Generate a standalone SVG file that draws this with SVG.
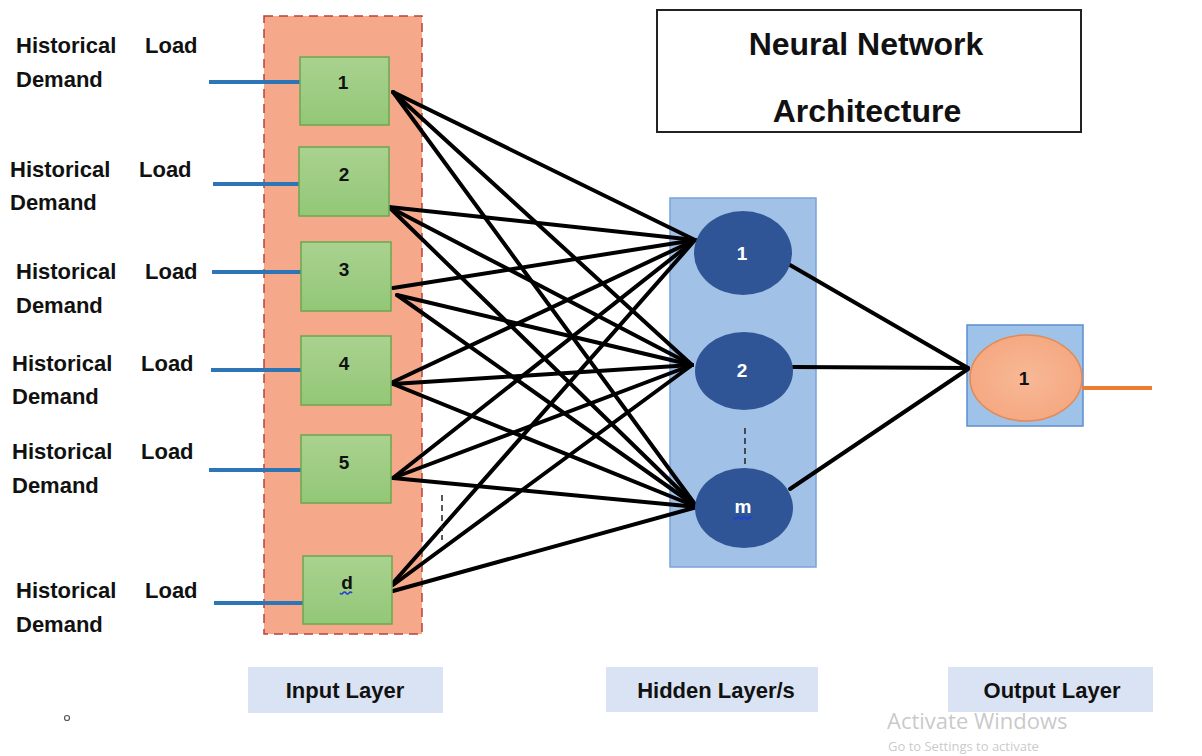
<svg xmlns="http://www.w3.org/2000/svg" width="1202" height="756" viewBox="0 0 1202 756">
  <defs>
    <linearGradient id="greenFill" x1="0" y1="0" x2="0" y2="1">
      <stop offset="0" stop-color="#a9d28f"/>
      <stop offset="1" stop-color="#93c777"/>
    </linearGradient>
    <radialGradient id="orangeFill" cx="0.5" cy="0.5" r="0.6">
      <stop offset="0" stop-color="#f8b896"/>
      <stop offset="1" stop-color="#f4a67e"/>
    </radialGradient>
  </defs>
  <style>
    text { font-family: "Liberation Sans", Arial, sans-serif; font-weight: bold; fill: #111; }
    .side { font-size: 22px; }
    .num { font-size: 19px; text-anchor: middle; }
    .hnum { font-size: 19px; text-anchor: middle; fill: #ffffff; }
    .title { font-size: 32px; text-anchor: middle; }
    .cap { font-size: 22px; text-anchor: middle; }
    .inbox { fill: url(#greenFill); stroke: #6aa84f; stroke-width: 1.5; }
    .feed { stroke: #2e75b6; stroke-width: 4; }
    .edge { stroke: #000; stroke-width: 4; fill: none; stroke-linecap: round; }
    .hnode { fill: #2f5597; }
    .dots { stroke: #222; stroke-width: 1.5; stroke-dasharray: 6 4; }
    .capbox { fill: #dae3f3; }
    .squiggle { fill: none; stroke: #1f3fd8; stroke-width: 1.5; }
    .wm { font-family: "Open Sans", "Liberation Sans", sans-serif; font-weight: normal; fill: #9a9a9a; fill-opacity: 0.55; }
  </style>

  <rect x="0" y="0" width="1202" height="756" fill="#ffffff"/>

  <!-- input layer panel -->
  <g id="input-layer">
    <rect x="264" y="16" width="158" height="618" fill="#f6a88a" stroke="#b8413a" stroke-width="1.5" stroke-dasharray="9 6"/>
  </g>

  <!-- hidden layer panel -->
  <g id="hidden-layer">
    <rect x="670" y="198" width="146" height="369" fill="#a2c1e7" stroke="#7aa3d9" stroke-width="1.5"/>
  </g>

  <!-- output layer panel -->
  <g id="output-layer">
    <rect x="967" y="325" width="116" height="101" fill="#9fc3e8" stroke="#5b8fd0" stroke-width="1.5"/>
  </g>

  <!-- connectors -->
  <g id="connectors">
    <!-- external feeds into input nodes -->
    <line class="feed" x1="209" y1="82" x2="300" y2="82"/>
    <line class="feed" x1="213" y1="184" x2="300" y2="184"/>
    <line class="feed" x1="212" y1="272" x2="301" y2="272"/>
    <line class="feed" x1="211" y1="370" x2="301" y2="370"/>
    <line class="feed" x1="209" y1="470" x2="301" y2="470"/>
    <line class="feed" x1="214" y1="603" x2="306" y2="603"/>

    <!-- input to hidden -->
    <line class="edge" x1="393" y1="92" x2="695" y2="240"/>
    <line class="edge" x1="393" y1="92" x2="692" y2="365"/>
    <line class="edge" x1="393" y1="92" x2="697" y2="507"/>

    <line class="edge" x1="389" y1="207" x2="695" y2="240"/>
    <line class="edge" x1="389" y1="207" x2="692" y2="365"/>
    <line class="edge" x1="389" y1="207" x2="697" y2="507"/>

    <line class="edge" x1="393" y1="288" x2="695" y2="240"/>
    <line class="edge" x1="397" y1="295" x2="692" y2="365"/>
    <line class="edge" x1="397" y1="295" x2="697" y2="507"/>

    <line class="edge" x1="393" y1="382" x2="695" y2="240"/>
    <line class="edge" x1="393" y1="384" x2="692" y2="365"/>
    <line class="edge" x1="393" y1="384" x2="697" y2="507"/>

    <line class="edge" x1="393" y1="478" x2="695" y2="240"/>
    <line class="edge" x1="393" y1="478" x2="692" y2="365"/>
    <line class="edge" x1="393" y1="478" x2="697" y2="507"/>

    <line class="edge" x1="393" y1="583" x2="695" y2="240"/>
    <line class="edge" x1="393" y1="585" x2="692" y2="365"/>
    <line class="edge" x1="393" y1="591" x2="697" y2="507"/>

    <!-- hidden to output -->
    <line class="edge" x1="790" y1="265" x2="968" y2="368"/>
    <line class="edge" x1="793" y1="367" x2="968" y2="368"/>
    <line class="edge" x1="790" y1="489" x2="968" y2="369"/>

    <!-- output feed -->
    <line x1="1082" y1="388" x2="1152" y2="388" stroke="#ed7d31" stroke-width="4"/>

    <!-- ellipsis markers -->
    <line class="dots" x1="442" y1="495" x2="442" y2="540"/>
    <line class="dots" x1="745" y1="428" x2="745" y2="472"/>
  </g>

  <!-- input nodes -->
  <g id="in-1">
    <rect class="inbox" x="300" y="57" width="89" height="68"/>
    <text class="num" x="343" y="89">1</text>
  </g>
  <g id="in-2">
    <rect class="inbox" x="299" y="147" width="90" height="69"/>
    <text class="num" x="344" y="181">2</text>
  </g>
  <g id="in-3">
    <rect class="inbox" x="301" y="242" width="90" height="69"/>
    <text class="num" x="344" y="276">3</text>
  </g>
  <g id="in-4">
    <rect class="inbox" x="301" y="336" width="90" height="69"/>
    <text class="num" x="344" y="370">4</text>
  </g>
  <g id="in-5">
    <rect class="inbox" x="301" y="435" width="90" height="68"/>
    <text class="num" x="344" y="469">5</text>
  </g>
  <g id="in-d">
    <rect class="inbox" x="303" y="556" width="89" height="68"/>
    <text class="num" x="347" y="589">d</text>
    <path class="squiggle" d="M340 593 q1.5 2 3 0 t3 0 t3 0 t3 0"/>
  </g>

  <!-- hidden nodes -->
  <g id="hid-1">
    <ellipse class="hnode" cx="743" cy="253" rx="49" ry="42"/>
    <text class="hnum" x="742" y="260">1</text>
  </g>
  <g id="hid-2">
    <ellipse class="hnode" cx="744" cy="371" rx="49" ry="39"/>
    <text class="hnum" x="742" y="377">2</text>
  </g>
  <g id="hid-m">
    <ellipse class="hnode" cx="744" cy="508" rx="49" ry="40"/>
    <text class="hnum" x="743" y="513">m</text>
    <path class="squiggle" d="M734 518 q1.5 2 3 0 t3 0 t3 0 t3 0 t3 0 t3 0"/>
  </g>

  <!-- output node -->
  <g id="out-1">
    <ellipse cx="1026" cy="378" rx="56" ry="43" fill="url(#orangeFill)" stroke="#e38a55" stroke-width="1.5"/>
    <text class="num" x="1024" y="385">1</text>
  </g>

  <!-- input descriptions -->
  <g id="labels-inputs">
    <text class="side" x="16" y="53">Historical</text><text class="side" x="145" y="53">Load</text>
    <text class="side" x="16" y="87">Demand</text>
    <text class="side" x="10" y="177">Historical</text><text class="side" x="139" y="177">Load</text>
    <text class="side" x="10" y="210">Demand</text>
    <text class="side" x="16" y="279">Historical</text><text class="side" x="145" y="279">Load</text>
    <text class="side" x="16" y="313">Demand</text>
    <text class="side" x="12" y="371">Historical</text><text class="side" x="141" y="371">Load</text>
    <text class="side" x="12" y="404">Demand</text>
    <text class="side" x="12" y="459">Historical</text><text class="side" x="141" y="459">Load</text>
    <text class="side" x="12" y="493">Demand</text>
    <text class="side" x="16" y="598">Historical</text><text class="side" x="145" y="598">Load</text>
    <text class="side" x="16" y="632">Demand</text>
  </g>

  <!-- title -->
  <g id="title">
    <rect x="657" y="10" width="424" height="122" fill="#ffffff" stroke="#222" stroke-width="2"/>
    <text class="title" x="866" y="55">Neural Network</text>
    <text class="title" x="867" y="122">Architecture</text>
  </g>

  <!-- layer captions -->
  <g id="caption-input">
    <rect class="capbox" x="248" y="667" width="195" height="46"/>
    <text class="cap" x="345" y="698">Input Layer</text>
  </g>
  <g id="caption-hidden">
    <rect class="capbox" x="606" y="667" width="212" height="45"/>
    <text class="cap" x="716" y="698">Hidden Layer/s</text>
  </g>
  <g id="caption-output">
    <rect class="capbox" x="948" y="667" width="205" height="45"/>
    <text class="cap" x="1052" y="698">Output Layer</text>
  </g>

  <!-- small bullet mark -->
  <circle cx="67" cy="718" r="2.5" fill="none" stroke="#555" stroke-width="1.2"/>

  <!-- system watermark -->
  <g id="watermark">
    <text class="wm" x="887" y="729" style="font-size:22px">Activate Windows</text>
    <text class="wm" x="888" y="751" style="font-size:13px">Go to Settings to activate</text>
  </g>
</svg>
